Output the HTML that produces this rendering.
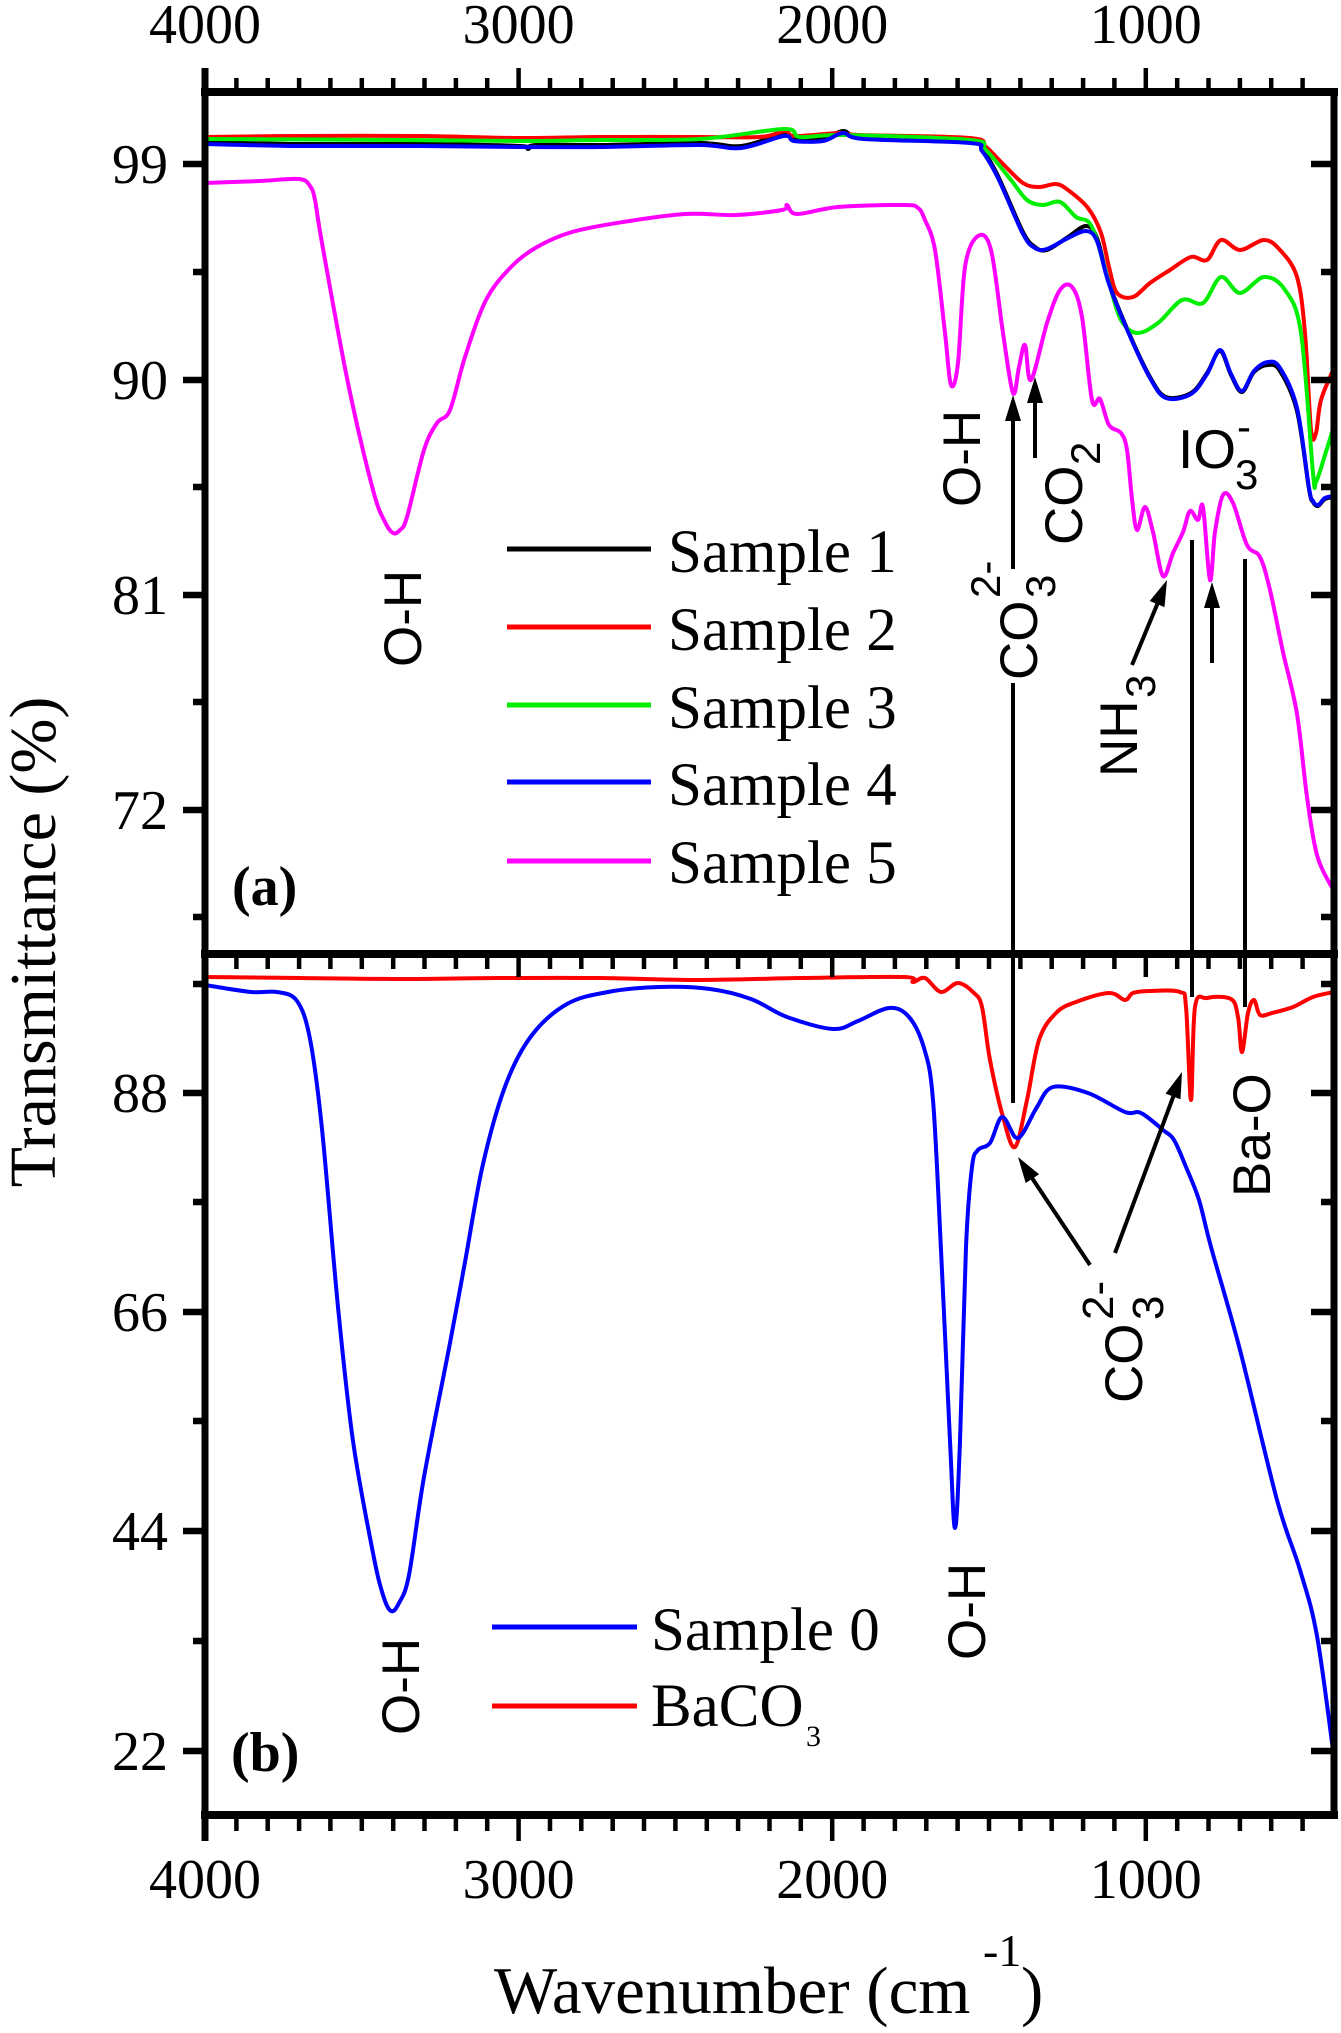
<!DOCTYPE html>
<html><head><meta charset="utf-8"><style>
html,body{margin:0;padding:0;background:#fff;}
svg{display:block;}
.serif{font-family:"Liberation Serif","Times New Roman",serif;}
.sans{font-family:"Liberation Sans",Arial,sans-serif;}
</style></head><body>
<svg id="fig" width="1341" height="2033" viewBox="0 0 1341 2033" xmlns="http://www.w3.org/2000/svg">
<rect width="1341" height="2033" fill="#fff"/>
<defs>
<clipPath id="ca"><rect x="205" y="92" width="1129" height="862"/></clipPath>
<clipPath id="cb"><rect x="205" y="954" width="1129" height="861"/></clipPath>
</defs>

<!-- Panel (a) curves -->
<g clip-path="url(#ca)" fill="none" stroke-width="4" stroke-linejoin="round" stroke-linecap="round">
<polyline class="sm" stroke="#000" points="205,142 300,144 420,144 520,146 528,149 536,145 600,145 700,143 741,146 784,134 794,139 823,139 843,131 864,137 970,141 982,149 998,176 1023,232 1035,247 1047,250 1068,237 1086,226 1097,238 1109,283 1129,333 1150,377 1166,397 1191,393 1207,373 1220,351 1231,375 1242,392 1254,372 1268,365 1280,371 1297,411 1309,489 1313,502 1318,506 1325,499 1334,497"/>
<polyline class="sm" stroke="#ff0000" points="205,137 300,136 420,136 520,138 600,137 700,137 760,137 785,131 795,136 840,133 860,135 970,138 986,147 1002,163 1023,183 1039,187 1056,184 1068,190 1088,208 1101,233 1109,267 1117,293 1133,297 1150,283 1170,270 1191,257 1207,260 1221,240 1240,250 1264,240 1280,250 1297,277 1305,333 1311,430 1316,433 1321,400 1334,368"/>
<polyline class="sm" stroke="#00ee00" points="205,139 400,140 520,141 600,140 700,139 784,129 800,137 843,135 970,140 986,150 1011,180 1027,200 1043,205 1060,202 1076,217 1092,227 1109,283 1121,320 1137,333 1158,323 1182,300 1203,303 1221,277 1240,293 1264,277 1285,290 1301,333 1313,473 1316,482 1325,455 1334,426"/>
<polyline class="sm" stroke="#0000ff" points="205,144 300,146 420,146 520,147 600,147 700,145 741,148 784,136 794,141 823,141 843,133 864,139 970,143 982,151 998,178 1023,234 1035,248 1047,249 1068,238 1086,231 1097,241 1109,284 1129,334 1150,378 1166,398 1191,394 1207,374 1220,350 1231,374 1242,391 1254,371 1268,362 1280,368 1297,408 1309,488 1313,501 1318,505 1325,498 1334,496"/>
<polyline class="sm" stroke="#ff00ff" points="205,183 260,181 299,179 310,186 315,200 322,243 348,383 373,490 385,522 393,533 400,530 407,517 424,450 437,423 450,410 465,357 486,300 511,267 537,247 572,232 623,222 685,214 736,215 782,210 787,205 797,214 838,207 904,205 918,208 925,220 935,250 945,333 951,385 958,363 965,267 978,236 991,250 1003,333 1013,393 1019,367 1025,345 1031,380 1047,323 1060,290 1072,287 1082,317 1092,400 1100,399 1109,425 1121,433 1127,450 1132,499 1137,530 1145,507 1153,532 1163,576 1173,553 1183,532 1190,511 1198,520 1203,507 1210,580 1215,532 1223,495 1233,503 1247,545 1260,557 1270,590 1283,652 1297,714 1307,797 1317,855 1330,884 1334,888"/>
</g>

<!-- Panel (b) curves -->
<g clip-path="url(#cb)" fill="none" stroke-width="4" stroke-linejoin="round" stroke-linecap="round">
<polyline class="sm" stroke="#ff0000" points="205,977 300,978 400,979 500,978 600,978 700,980 800,978 904,977 913,982 925,978 941,992 958,983 974,993 982,1007 990,1060 1003,1117 1015,1147 1027,1100 1039,1040 1056,1013 1076,1002 1109,993 1125,1000 1133,993 1150,991 1180,992 1186,1007 1191,1100 1195,1007 1207,998 1231,999 1238,1017 1242,1052 1248,1013 1254,1000 1260,1015 1272,1013 1293,1007 1313,997 1334,992"/>
<polyline class="sm" stroke="#0000ff" points="205,985 251,992 277,992 297,1001 310,1039 322,1129 338,1307 353,1441 373,1553 383,1595 391,1611 399,1603 409,1575 424,1477 450,1343 465,1262 483,1164 506,1084 532,1035 567,1004 608,992 659,987 710,989 751,999 787,1017 833,1029 858,1021 889,1008 909,1017 924,1048 933,1100 941,1250 950,1441 955,1528 960,1441 966,1247 972,1167 978,1150 990,1143 1002,1117 1015,1137 1023,1133 1037,1107 1053,1087 1088,1093 1125,1112 1141,1113 1163,1130 1174,1140 1186,1167 1199,1200 1211,1247 1240,1350 1277,1500 1300,1570 1317,1636 1334,1758"/>
</g>

<!-- Axes frame -->
<g stroke="#000" fill="none">
<line x1="205" y1="68" x2="205" y2="1841" stroke-width="7"/>
<line x1="1334" y1="88" x2="1334" y2="1819" stroke-width="7"/>
<line x1="201" y1="92" x2="1338" y2="92" stroke-width="8"/>
<line x1="201" y1="954" x2="1338" y2="954" stroke-width="8"/>
<line x1="201" y1="1815" x2="1338" y2="1815" stroke-width="8"/>
</g>

<!-- X ticks -->
<g stroke="#000" stroke-width="4.5" fill="none">
<path d="M236.4 88V78M267.7 88V78M299.1 88V78M330.4 88V78M361.8 88V78M393.2 88V78M424.5 88V78M455.9 88V78M487.2 88V78M550 88V78M581.3 88V78M612.7 88V78M644 88V78M675.4 88V78M706.8 88V78M738.1 88V78M769.5 88V78M800.8 88V78M863.6 88V78M894.9 88V78M926.3 88V78M957.6 88V78M989 88V78M1020.4 88V78M1051.7 88V78M1083.1 88V78M1114.4 88V78M1177.2 88V78M1208.5 88V78M1239.9 88V78M1271.2 88V78M1302.6 88V78"/>
<path d="M518.6 88V68M832.2 88V68M1145.8 88V68"/>
<path d="M236.4 958V969M267.7 958V969M299.1 958V969M330.4 958V969M361.8 958V969M393.2 958V969M424.5 958V969M455.9 958V969M487.2 958V969M550 958V969M581.3 958V969M612.7 958V969M644 958V969M675.4 958V969M706.8 958V969M738.1 958V969M769.5 958V969M800.8 958V969M863.6 958V969M894.9 958V969M926.3 958V969M957.6 958V969M989 958V969M1020.4 958V969M1051.7 958V969M1083.1 958V969M1114.4 958V969M1177.2 958V969M1208.5 958V969M1239.9 958V969M1271.2 958V969M1302.6 958V969"/>
<path d="M518.6 958V977M832.2 958V977M1145.8 958V977"/>
<path d="M236.4 1819V1831M267.7 1819V1831M299.1 1819V1831M330.4 1819V1831M361.8 1819V1831M393.2 1819V1831M424.5 1819V1831M455.9 1819V1831M487.2 1819V1831M550 1819V1831M581.3 1819V1831M612.7 1819V1831M644 1819V1831M675.4 1819V1831M706.8 1819V1831M738.1 1819V1831M769.5 1819V1831M800.8 1819V1831M863.6 1819V1831M894.9 1819V1831M926.3 1819V1831M957.6 1819V1831M989 1819V1831M1020.4 1819V1831M1051.7 1819V1831M1083.1 1819V1831M1114.4 1819V1831M1177.2 1819V1831M1208.5 1819V1831M1239.9 1819V1831M1271.2 1819V1831M1302.6 1819V1831"/>
<path d="M518.6 1819V1841M832.2 1819V1841M1145.8 1819V1841"/>
</g>

<!-- Y ticks -->
<g stroke="#000" stroke-width="6.5" fill="none">
<path d="M202 164H183M202 380H183M202 595H183M202 810H183M202 1093H183M202 1312H183M202 1531H183M202 1751H183"/>
<path d="M202 272H193M202 487H193M202 702H193M202 917H193M202 984H193M202 1202H193M202 1421H193M202 1641H193"/>
<path d="M1331 164H1311M1331 380H1311M1331 595H1311M1331 810H1311M1331 1093H1311M1331 1312H1311M1331 1531H1311M1331 1751H1311"/>
<path d="M1331 272H1321M1331 487H1321M1331 702H1321M1331 917H1321M1331 984H1321M1331 1202H1321M1331 1421H1321M1331 1641H1321"/>
</g>

<!-- Tick labels -->
<g class="serif" font-size="56" fill="#000">
<g text-anchor="middle">
<text x="205" y="43">4000</text><text x="518.6" y="43">3000</text><text x="832.2" y="43">2000</text><text x="1145.8" y="43">1000</text>
<text x="205" y="1898">4000</text><text x="518.6" y="1898">3000</text><text x="832.2" y="1898">2000</text><text x="1145.8" y="1898">1000</text>
</g>
<g text-anchor="end">
<text x="168" y="183">99</text><text x="168" y="399">90</text><text x="168" y="614">81</text><text x="168" y="829">72</text>
<text x="168" y="1112">88</text><text x="168" y="1331">66</text><text x="168" y="1550">44</text><text x="168" y="1770">22</text>
</g>
</g>

<!-- Axis titles -->
<text class="serif" font-size="66" text-anchor="middle" transform="translate(55,942) rotate(-90)">Transmittance (%)</text>
<text class="serif" font-size="67" x="494" y="2013">Wavenumber (cm</text>
<text class="serif" font-size="46" x="983" y="1966">-1</text>
<text class="serif" font-size="67" x="1021" y="2013">)</text>

<!-- Panel labels -->
<text class="serif" font-size="56" font-weight="bold" x="232" y="905">(a)</text>
<text class="serif" font-size="56" font-weight="bold" x="231" y="1771">(b)</text>

<!-- Legend (a) -->
<g stroke-width="5">
<line x1="507" y1="549" x2="651" y2="549" stroke="#000"/>
<line x1="507" y1="627" x2="651" y2="627" stroke="#ff0000"/>
<line x1="507" y1="705" x2="651" y2="705" stroke="#00ee00"/>
<line x1="507" y1="782" x2="651" y2="782" stroke="#0000ff"/>
<line x1="507" y1="861" x2="651" y2="861" stroke="#ff00ff"/>
</g>
<g class="serif" font-size="61">
<text x="668" y="572">Sample 1</text>
<text x="668" y="650">Sample 2</text>
<text x="668" y="728">Sample 3</text>
<text x="668" y="805">Sample 4</text>
<text x="668" y="883">Sample 5</text>
</g>

<!-- Legend (b) -->
<g stroke-width="5">
<line x1="492" y1="1627" x2="637" y2="1627" stroke="#0000ff"/>
<line x1="492" y1="1706" x2="637" y2="1706" stroke="#ff0000"/>
</g>
<g class="serif" font-size="61">
<text x="651" y="1650">Sample 0</text>
<text x="651" y="1726">BaCO</text>
</g>
<text class="serif" font-size="30" x="806" y="1746">3</text>

<!-- Annotation lines & arrows -->
<g stroke="#000" stroke-width="4" fill="none">
<line x1="1013" y1="683" x2="1013" y2="1103"/>
<line x1="1192" y1="540" x2="1192" y2="997"/>
<line x1="1245" y1="559" x2="1245" y2="1007"/>
<line x1="1013" y1="569" x2="1013" y2="415"/>
<line x1="1035" y1="458" x2="1035" y2="397"/>
<line x1="1212" y1="663" x2="1212" y2="602"/>
<line x1="1132" y1="665" x2="1159" y2="600"/>
<line x1="1090" y1="1265" x2="1030" y2="1175"/>
<line x1="1115" y1="1253" x2="1175" y2="1092"/>
</g>
<g fill="#000">
<polygon points="1013,395 1005,421 1021,421"/>
<polygon points="1035,377 1027,403 1043,403"/>
<polygon points="1212,582 1204,608 1220,608"/>
<polygon points="1167,580 1164.5,607.1 1149.7,601"/>
<polygon points="1018,1157 1039.1,1174.2 1025.7,1183"/>
<polygon points="1182,1072 1180.5,1099.2 1165.5,1093.6"/>
</g>

<!-- Annotation labels -->
<g class="sans" fill="#000">
<text font-size="53" transform="translate(421,667) rotate(-90)">O-H</text>
<text font-size="53" transform="translate(980,507) rotate(-90)">O-H</text>
<text font-size="53" transform="translate(1037,680) rotate(-90)">CO</text>
<text font-size="42" transform="translate(1055,598) rotate(-90)">3</text>
<text font-size="42" transform="translate(1000,598) rotate(-90)">2-</text>
<text font-size="53" transform="translate(1082,545) rotate(-90)">CO</text>
<text font-size="42" transform="translate(1100,465) rotate(-90)">2</text>
<text font-size="55" x="1178" y="468">IO</text>
<text font-size="42" x="1235" y="489">3</text>
<text font-size="42" x="1237" y="441">-</text>
<text font-size="53" transform="translate(1137,777) rotate(-90)">NH</text>
<text font-size="42" transform="translate(1155,698) rotate(-90)">3</text>

<text font-size="53" transform="translate(419,1735) rotate(-90)">O-H</text>
<text font-size="53" transform="translate(985,1660) rotate(-90)">O-H</text>
<text font-size="53" transform="translate(1142,1403) rotate(-90)">CO</text>
<text font-size="44" transform="translate(1163,1320) rotate(-90)">3</text>
<text font-size="44" transform="translate(1113,1320) rotate(-90)">2-</text>
<text font-size="53" transform="translate(1270,1197) rotate(-90)">Ba-O</text>
</g>
</svg>
<script>
(function(){
  try{
    var ns="http://www.w3.org/2000/svg";
    var pls=document.querySelectorAll("polyline.sm");
    for(var k=0;k<pls.length;k++){
      var pl=pls[k];
      var raw=pl.getAttribute("points").trim().split(/\s+/);
      var p=[];
      for(var i=0;i<raw.length;i++){var c=raw[i].split(",");p.push([+c[0],+c[1]]);}
      if(p.length<3)continue;
      var d="M"+p[0][0]+" "+p[0][1];
      var t=0.5/3;
      for(var i=0;i<p.length-1;i++){
        var p0=p[i>0?i-1:0],p1=p[i],p2=p[i+1],p3=p[i+2<p.length?i+2:p.length-1];
        var c1x=p1[0]+(p2[0]-p0[0])*t,c1y=p1[1]+(p2[1]-p0[1])*t;
        var c2x=p2[0]-(p3[0]-p1[0])*t,c2y=p2[1]-(p3[1]-p1[1])*t;
        d+="C"+c1x.toFixed(2)+" "+c1y.toFixed(2)+" "+c2x.toFixed(2)+" "+c2y.toFixed(2)+" "+p2[0]+" "+p2[1];
      }
      var path=document.createElementNS(ns,"path");
      path.setAttribute("d",d);
      path.setAttribute("stroke",pl.getAttribute("stroke"));
      pl.parentNode.insertBefore(path,pl);
      pl.parentNode.removeChild(pl);
    }
  }catch(e){}
})();
</script>
</body></html>
